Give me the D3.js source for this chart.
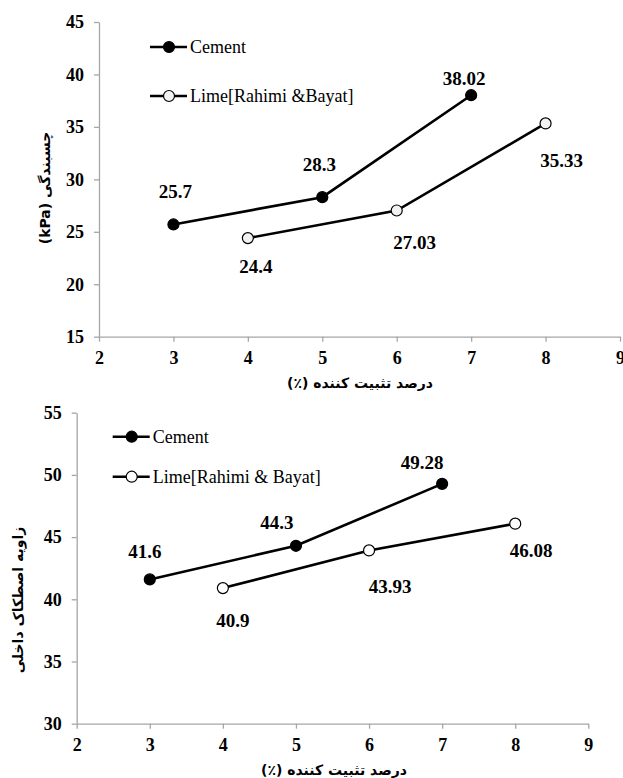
<!DOCTYPE html>
<html>
<head>
<meta charset="utf-8">
<script src="https://cdn.jsdelivr.net/npm/d3@7"></script>
<style>
  html, body { margin: 0; padding: 0; background: #fff; }
  svg { display: block; }
</style>
</head>
<body>
<svg id="chart" width="623" height="778"></svg>
<script>
// ---- Data ----
const xTicks = [2, 3, 4, 5, 6, 7, 8, 9];

const cohesionYTicks = [15, 20, 25, 30, 35, 40, 45];
const cohesionCementX = [3, 5, 7];
const cohesionCementY = [25.7, 28.3, 38.02];
const cohesionLimeX = [4, 6, 8];
const cohesionLimeY = [24.4, 27.03, 35.33];

const frictionYTicks = [30, 35, 40, 45, 50, 55];
const frictionCementX = [3, 5, 7];
const frictionCementY = [41.6, 44.3, 49.28];
const frictionLimeX = [4, 6, 8];
const frictionLimeY = [40.9, 43.93, 46.08];

const xTitle = "درصد تثبیت کننده (٪)";
const cohesionTitle = "چسبندگی (kPa)";
const frictionTitle = "زاویه اصطکاک داخلی";
const cementName = "Cement";
const limeName1 = "Lime[Rahimi &Bayat]";
const limeName2 = "Lime[Rahimi & Bayat]";

// ---- Drawing ----
const svg = d3.select("#chart");
const axisColor = "#a6a6a6";
const NUM = '"Liberation Serif", "Times New Roman", Times, serif';
const AR = '"DejaVu Sans", sans-serif';

function panel(cfg) {
  const x = d3.scaleLinear().domain([2, 9]).range([cfg.left, cfg.right]);
  const y = d3.scaleLinear().domain(cfg.yDomain).range([cfg.bottom, cfg.top]);
  const g = svg.append("g");

  const xa = g.append("g").attr("transform", `translate(0,${cfg.bottom})`)
    .call(d3.axisBottom(x).tickValues(xTicks).tickFormat(d3.format("d"))
      .tickSize(5).tickSizeOuter(0).tickPadding(10));
  const ya = g.append("g").attr("transform", `translate(${cfg.left},0)`)
    .call(d3.axisLeft(y).tickValues(cfg.yTicks).tickFormat(d3.format("d"))
      .tickSize(5).tickSizeOuter(0).tickPadding(10));
  [xa, ya].forEach(a => {
    a.attr("font-family", NUM).attr("font-size", 18).attr("font-weight", "bold");
    a.select(".domain").attr("stroke", axisColor).attr("stroke-width", 1.3);
    a.selectAll(".tick line").attr("stroke", axisColor).attr("stroke-width", 1.3);
    a.selectAll(".tick text")
      .style("font-family", NUM).style("font-weight", "700").style("font-size", "18px")
      .attr("fill", "#000");
  });

  const line = d3.line().x(d => x(d[0])).y(d => y(d[1]));
  const series = [
    { xs: cfg.cementX, ys: cfg.cementY, fill: "#000", labels: cfg.cementLabels },
    { xs: cfg.limeX, ys: cfg.limeY, fill: cfg.limeFill, labels: cfg.limeLabels }
  ];
  series.forEach(s => {
    const pts = s.xs.map((v, i) => [v, s.ys[i]]);
    g.append("path").datum(pts).attr("d", line).attr("fill", "none")
      .attr("stroke", "#000").attr("stroke-width", 2.6);
    g.selectAll(null).data(pts).enter().append("circle")
      .attr("cx", d => x(d[0])).attr("cy", d => y(d[1])).attr("r", 5.5)
      .attr("fill", s.fill).attr("stroke", "#000").attr("stroke-width", 1.2);
    g.selectAll(null).data(pts).enter().append("text")
      .attr("x", (d, i) => x(d[0]) + s.labels[i][0])
      .attr("y", (d, i) => y(d[1]) + s.labels[i][1])
      .attr("text-anchor", "middle").attr("dominant-baseline", "central")
      .style("font-family", NUM).style("font-weight", "700").style("font-size", "19px")
      .text(d => d[1]);
  });

  // legend
  const leg = [
    { name: cementName, fill: "#000", y: cfg.legY[0] },
    { name: cfg.limeName, fill: cfg.limeFill, y: cfg.legY[1] }
  ];
  leg.forEach(l => {
    g.append("line").attr("x1", cfg.legX).attr("x2", cfg.legX + 37)
      .attr("y1", l.y).attr("y2", l.y).attr("stroke", "#000").attr("stroke-width", 2.6);
    g.append("circle").attr("cx", cfg.legX + 19).attr("cy", l.y).attr("r", 5.5)
      .attr("fill", l.fill).attr("stroke", "#000").attr("stroke-width", 1.2);
    g.append("text").attr("x", cfg.legX + 40).attr("y", l.y + 6)
      .style("font-family", NUM).style("font-size", "18px").attr("fill", "#000").text(l.name);
  });

  // axis titles
  g.append("text").attr("x", cfg.xTitlePos[0]).attr("y", cfg.xTitlePos[1])
    .attr("text-anchor", "middle").attr("dominant-baseline", "central")
    .attr("direction", "rtl").attr("unicode-bidi", "embed")
    .style("font-family", AR).style("font-weight", "700").style("font-size", "14px")
    .text(xTitle);
  g.append("text")
    .attr("transform", `translate(${cfg.yTitlePos[0]},${cfg.yTitlePos[1]}) rotate(-90)`)
    .attr("text-anchor", "middle").attr("dominant-baseline", "central")
    .attr("direction", "rtl").attr("unicode-bidi", "embed")
    .style("font-family", AR).style("font-weight", "700").style("font-size", "14px")
    .text(cfg.yTitle);
}

panel({
  left: 99, right: 620, top: 22, bottom: 336.7,
  yDomain: [15, 45], yTicks: cohesionYTicks,
  cementX: cohesionCementX, cementY: cohesionCementY,
  limeX: cohesionLimeX, limeY: cohesionLimeY,
  limeFill: "#f2f2f2",
  cementLabels: [[2, -33], [-3, -33], [-7, -17]],
  limeLabels: [[8, 28], [18, 32], [16, 37]],
  legX: 150, legY: [47, 96], limeName: limeName1,
  xTitlePos: [360, 383], yTitlePos: [45, 188], yTitle: cohesionTitle
});

panel({
  left: 76.7, right: 588.3, top: 412.7, bottom: 723.7,
  yDomain: [30, 55], yTicks: frictionYTicks,
  cementX: frictionCementX, cementY: frictionCementY,
  limeX: frictionLimeX, limeY: frictionLimeY,
  limeFill: "#fff",
  cementLabels: [[-5, -28], [-19, -23], [-20, -21]],
  limeLabels: [[10, 32], [21, 36], [16, 27]],
  legX: 112.7, legY: [436.7, 476.7], limeName: limeName2,
  xTitlePos: [334, 770], yTitlePos: [18, 600], yTitle: frictionTitle
});
</script>
</body>
</html>
